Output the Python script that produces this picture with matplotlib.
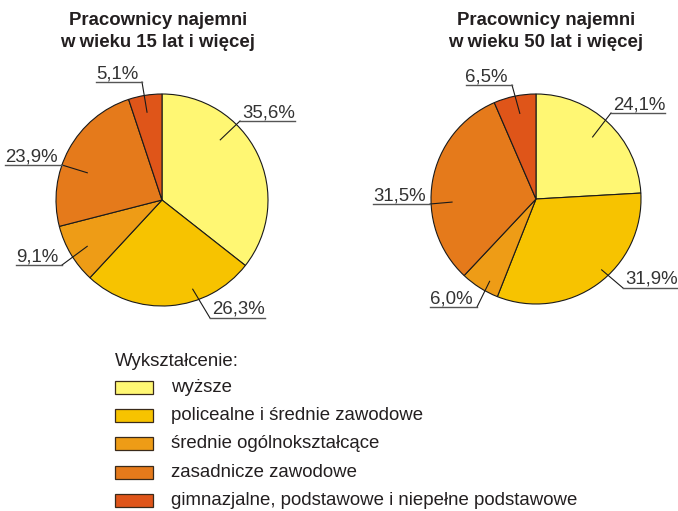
import matplotlib.pyplot as plt
from matplotlib.patches import Rectangle
import numpy as np

categories = [
    "wyższe",
    "policealne i średnie zawodowe",
    "średnie ogólnokształcące",
    "zasadnicze zawodowe",
    "gimnazjalne, podstawowe i niepełne podstawowe",
]
share_15plus = [35.6, 26.3, 9.1, 23.9, 5.1]
share_50plus = [24.1, 31.9, 6.0, 31.5, 6.5]
labels_15plus = ["35,6%", "26,3%", "9,1%", "23,9%", "5,1%"]
labels_50plus = ["24,1%", "31,9%", "6,0%", "31,5%", "6,5%"]
titles = ["Pracownicy najemni\nw wieku 15 lat i więcej",
          "Pracownicy najemni\nw wieku 50 lat i więcej"]
legend_title = "Wykształcenie:"

colors = ["#fff773", "#f7c300", "#ee9c16", "#e57a1b", "#df5519"]

W, H = 678, 511
plt.rcParams["font.family"] = ["Liberation Sans", "DejaVu Sans"]

fig = plt.figure(figsize=(W / 100, H / 100), dpi=100)
ax = fig.add_axes([0, 0, 1, 1])


def set_frame():
    # pie() resets the limits, so put the pixel frame back after it
    ax.set_xlim(0, W)
    ax.set_ylim(0, H)
    ax.set_aspect("equal")
    ax.axis("off")


def fy(y):
    # layout is written in pixels from the top
    return H - y


# pie layout: centre, radius, title centre x
pies = [
    dict(values=share_15plus, labels=labels_15plus, title=titles[0],
         center=(162, 200), radius=106, title_x=158,
         # (angle offset, radius fraction, elbow x, elbow y, side)
         leaders=[(20, 0.79, 240, 121, "r"),
                  (14.5, 0.89, 210, 318, "r"),
                  (1, 0.83, 62, 265, "l"),
                  (8.6, 0.75, 62, 165, "l"),
                  (0.5, 0.84, 142, 82, "l")]),
    dict(values=share_50plus, labels=labels_50plus, title=titles[1],
         center=(536, 199), radius=105, title_x=546,
         leaders=[(1, 0.80, 611, 113, "r"),
                  (7, 0.92, 623, 288, "r"),
                  (3, 0.90, 477, 307, "l"),
                  (12, 0.80, 430, 204, "l"),
                  (-1, 0.83, 512, 85, "l")]),
]

label_color = "#333333"
fs = 13.4

for p in pies:
    cx, cy = p["center"][0], fy(p["center"][1])
    ax.pie(p["values"], colors=colors, startangle=90, counterclock=False,
           center=(cx, cy), radius=p["radius"],
           wedgeprops=dict(edgecolor="#1a1a1a", linewidth=0.8))
set_frame()

for p in pies:
    cx, cy = p["center"][0], fy(p["center"][1])
    for k, line in enumerate(p["title"].split("\n")):
        ax.text(p["title_x"], fy(25 + k * 21.5), line, ha="center",
                va="baseline", fontsize=13.4, fontweight="bold",
                color="#231f20")

    cum = np.cumsum([0] + list(p["values"]))
    for i, (lab, (da, rf, ex, ey, side)) in enumerate(zip(p["labels"], p["leaders"])):
        mid = 90 - (cum[i] + cum[i + 1]) / 2 * 3.6 + da
        sx = cx + rf * p["radius"] * np.cos(np.radians(mid))
        sy = cy + rf * p["radius"] * np.sin(np.radians(mid))
        ax.plot([sx, ex], [sy, fy(ey)], color="#1a1a1a", lw=0.8)
        if side == "r":
            t = ax.text(ex + 2, fy(ey - 4), lab, ha="left", va="baseline",
                        fontsize=fs, color=label_color)
        else:
            t = ax.text(ex - 4, fy(ey - 4), lab, ha="right", va="baseline",
                        fontsize=fs, color=label_color)
        fig.canvas.draw()
        bb = t.get_window_extent()
        if side == "r":
            ax.plot([ex, bb.x1], [fy(ey), fy(ey)], color="#555555", lw=1)
        else:
            ax.plot([bb.x0, ex], [fy(ey), fy(ey)], color="#555555", lw=1)

# legend
ax.text(115, fy(362), legend_title, ha="left", va="center",
        fontsize=fs, color="#231f20")
for i, (name, c) in enumerate(zip(categories, colors)):
    yc = 387 + i * 28.45
    ax.add_patch(Rectangle((115, fy(yc) - 6.5), 38, 13, facecolor=c,
                           edgecolor="#3a2a1a", lw=0.9))
    ax.text(171, fy(yc), name, ha="left", va="center", fontsize=fs,
            color="#231f20")

set_frame()
fig.savefig("out.png", dpi=100)
